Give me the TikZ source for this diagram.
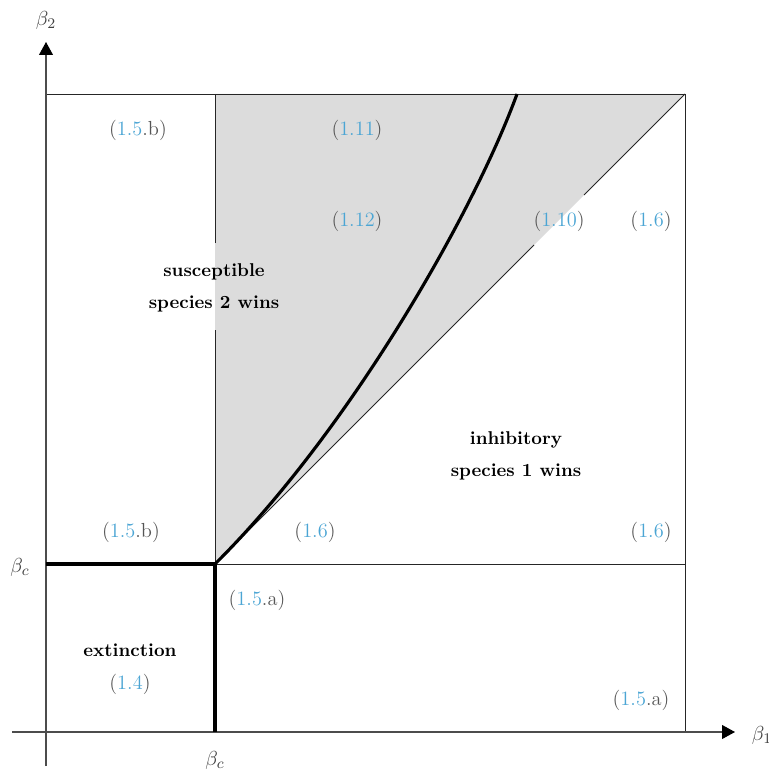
\documentclass[tikz,border=0pt]{standalone}
\usetikzlibrary{arrows.meta}
\definecolor{eqblue}{RGB}{75,165,212}
\definecolor{pgray}{RGB}{85,85,85}
\definecolor{regiongray}{RGB}{220,220,220}
\newcommand{\myeq}[2]{\textcolor{pgray}{(}\textcolor{eqblue}{#1}\textcolor{pgray}{#2)}}
\begin{document}
\begin{tikzpicture}[x=0.54pt,y=-0.54pt,
  axis/.style={draw=black!70, line width=0.6pt, -{Triangle[length=7pt,width=7.5pt,color=black,fill=black]}},
  thinline/.style={draw=black!85, line width=0.5pt},
  thickline/.style={draw=black, line width=1.7pt},
  lbl/.style={inner sep=0pt, font=\fontsize{11}{13.2}\selectfont},
  region/.style={inner sep=0pt, font=\bfseries, align=center, text=black},
  ax/.style={inner sep=0pt, text=black!75, font=\fontsize{11}{13.2}\selectfont}]
\useasboundingbox (0,0) rectangle (769,770);
% key points
\coordinate (O) at (46,732);
\coordinate (C) at (215,564);
\coordinate (TL) at (46,94);
\coordinate (TC) at (215,94);
\coordinate (TR) at (685,94);
\coordinate (MR) at (685,564);
\coordinate (BR) at (685,732);
\coordinate (BC) at (215,732);
\coordinate (ML) at (46,564);
\coordinate (CE) at (517,94);
% gray region
\fill[regiongray] (C) -- (TC) -- (TR) -- cycle;
% box lines
\draw[thinline] (TL) -- (TR) -- (BR);
\draw[thinline] (C) -- (MR);
\draw[thinline] (C) -- (215,330);
\draw[thinline] (215,243) -- (TC);
\draw[thinline] (C) -- (534,245);
\draw[thinline] (584,195) -- (TR);
% axes
\coordinate (xs) at (12,732);
\coordinate (xe) at (735,732);
\coordinate (ys) at (46,766);
\coordinate (ye) at (46,42);
\draw[axis] (xs) -- (xe);
\draw[axis] (ys) -- (ye);
% thick boundaries
\draw[thickline] (ML) -- (C) -- (BC);
\draw[thickline] (C) .. controls (350,430) and (474,212) .. (CE);
% axis labels
\node[ax] (b2) at (46,20) {$\beta_2$};
\node[ax] (b1) at (762,735) {$\beta_1$};
\node[ax] (bcl) at (20,567) {$\beta_c$};
\node[ax] (bcb) at (215,760) {$\beta_c$};
% equation labels
\node[lbl] (l1) at (138,130) {\myeq{1.5}{.b}};
\node[lbl] (l2) at (357,130) {\myeq{1.11}{}};
\node[lbl] (l3) at (357,221) {\myeq{1.12}{}};
\node[lbl] (l4) at (559,221) {\myeq{1.10}{}};
\node[lbl] (l5) at (651,221) {\myeq{1.6}{}};
\node[lbl] (l6) at (131,532) {\myeq{1.5}{.b}};
\node[lbl] (l7) at (315,532) {\myeq{1.6}{}};
\node[lbl] (l8) at (651,532) {\myeq{1.6}{}};
\node[lbl] (l9) at (257,600) {\myeq{1.5}{.a}};
\node[lbl] (l10) at (130,684) {\myeq{1.4}{}};
\node[lbl] (l11) at (641,700) {\myeq{1.5}{.a}};
% region labels
\node[region] (r1) at (214,288) {susceptible\\[5pt]species 2 wins};
\node[region] (r2) at (516,456) {inhibitory\\[5pt]species 1 wins};
\node[region] (r3) at (130,650) {extinction};
\end{tikzpicture}
\end{document}
